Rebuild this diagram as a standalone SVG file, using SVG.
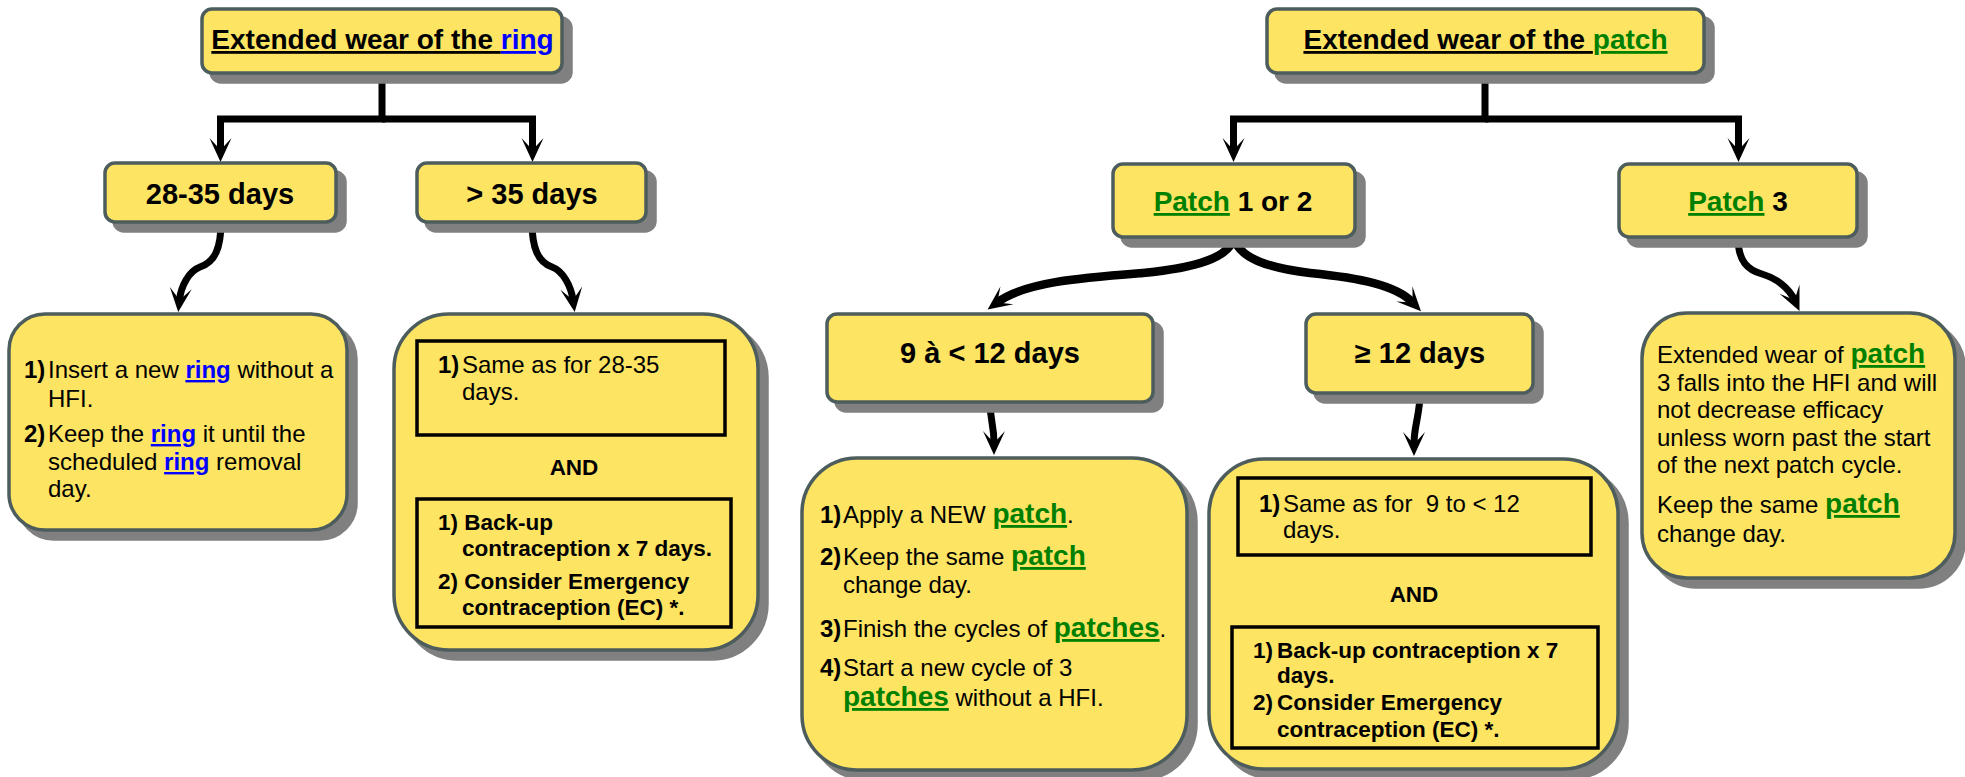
<svg xmlns="http://www.w3.org/2000/svg" width="1965" height="777" viewBox="0 0 1965 777">
<style>
text{font-family:"Liberation Sans",Arial,sans-serif;fill:#000}
.box{fill:#fde463;stroke:#4d5c5c;stroke-width:3.5}
.sh{fill:#808080;stroke:#808080;stroke-width:3.5}
.inner{fill:none;stroke:#000;stroke-width:3.5}
.lbl{font-size:29px;font-weight:bold;text-anchor:middle}
.ttl{font-size:28px;font-weight:bold;text-anchor:middle}
.t{font-size:24px}
.b{font-weight:bold}
.ring{font-weight:bold;fill:#0000ff;text-decoration:underline}
.pt{font-weight:bold;fill:#008000;text-decoration:underline;font-size:28px}
.u{text-decoration:underline}
.bt{font-size:22.5px;font-weight:bold}
.ctr{text-anchor:middle}
.con{fill:none;stroke:#000;stroke-width:7;stroke-linejoin:miter;marker-end:url(#ah)}
.thick{stroke-width:8.5}
</style>
<defs>
<marker id="ah" markerUnits="userSpaceOnUse" markerWidth="28" markerHeight="26" viewBox="-2 -13 28 26" refX="12" refY="0" orient="auto">
<path d="M0,-11 L24,0 L0,11 L12,0 Z" fill="#000"/>
</marker>
</defs>
<rect width="1965" height="777" fill="#fff"/>

<g id="connectors">
<path class="con" d="M382,73 V119 H220.5 V150"/>
<path class="con" d="M382,119 H532.5 V150"/>
<path class="con" d="M221,222 C221,248 215,262 200,267 C189,271 181,286 179.5,300"/>
<path class="con" d="M532,222 C532,248 538,262 552,267 C563,271 571,286 573,300"/>
<path class="con" d="M1485,73 V119 H1233.5 V150"/>
<path class="con" d="M1485,119 H1738.5 V150"/>
<path class="con thick" d="M1234,237 C1230,258 1195,268 1143,273 C1080,278 1025,282 997.3,302.4"/>
<path class="con thick" d="M1234,237 C1238,258 1268,268 1310,273 C1360,278 1396,285 1412.7,302.5"/>
<path class="con" d="M1738,237 C1738,262 1748,270 1762,274 C1776,278 1789,288 1794.5,300"/>
<path class="con" d="M990,402 C990,420 994,425 994,443"/>
<path class="con" d="M1420,393 C1420,415 1414,425 1414,444"/>
</g>

<g id="ring-title">
<rect class="sh" x="211" y="18" width="360" height="64" rx="10"/>
<rect class="box" x="202" y="9" width="360" height="64" rx="10"/>
<text class="ttl" x="382.5" y="49"><tspan class="u">Extended wear of the </tspan><tspan class="ring">ring</tspan></text>
</g>

<g id="ring-28-35">
<rect class="sh" x="114" y="172" width="231" height="59" rx="10"/>
<rect class="box" x="105" y="163" width="231" height="59" rx="10"/>
<text class="lbl" x="220" y="204">28-35 days</text>
</g>

<g id="ring-gt35">
<rect class="sh" x="426" y="172" width="229" height="59" rx="10"/>
<rect class="box" x="417" y="163" width="229" height="59" rx="10"/>
<text class="lbl" x="532" y="204">&gt; 35 days</text>
</g>

<g id="ring-28-35-detail">
<rect class="sh" x="18" y="323" width="338" height="216" rx="36"/>
<rect class="box" x="9" y="314" width="338" height="216" rx="36"/>
<text class="t b" x="24" y="378">1)</text>
<text class="t" x="48" y="378">Insert a new <tspan class="ring">ring</tspan> without a</text>
<text class="t" x="48" y="407">HFI.</text>
<text class="t b" x="24" y="442">2)</text>
<text class="t" x="48" y="442">Keep the <tspan class="ring">ring</tspan> it until the</text>
<text class="t" x="48" y="470">scheduled <tspan class="ring">ring</tspan> removal</text>
<text class="t" x="48" y="497">day.</text>
</g>

<g id="ring-gt35-detail">
<rect class="sh" x="403" y="323" width="364" height="336" rx="55"/>
<rect class="box" x="394" y="314" width="364" height="336" rx="55"/>
<rect class="inner" x="417" y="341" width="308" height="94"/>
<text class="t b" x="438" y="373">1)</text>
<text class="t" x="462" y="373">Same as for 28-35</text>
<text class="t" x="462" y="400">days.</text>
<text class="bt ctr" x="574" y="475">AND</text>
<rect class="inner" x="417" y="499" width="314" height="128"/>
<text class="bt" x="438" y="530">1) Back-up</text>
<text class="bt" x="462" y="556">contraception x 7 days.</text>
<text class="bt" x="438" y="589">2) Consider Emergency</text>
<text class="bt" x="462" y="615">contraception (EC) *.</text>
</g>

<g id="patch-title">
<rect class="sh" x="1276" y="18" width="437" height="64" rx="10"/>
<rect class="box" x="1267" y="9" width="437" height="64" rx="10"/>
<text class="ttl" x="1485.5" y="49"><tspan class="u">Extended wear of the </tspan><tspan class="pt">patch</tspan></text>
</g>

<g id="patch-1-2">
<rect class="sh" x="1122" y="173" width="242" height="73" rx="10"/>
<rect class="box" x="1113" y="164" width="242" height="73" rx="10"/>
<text class="ttl" x="1233" y="211"><tspan class="pt">Patch</tspan> 1 or 2</text>
</g>

<g id="patch-3">
<rect class="sh" x="1628" y="173" width="238" height="73" rx="10"/>
<rect class="box" x="1619" y="164" width="238" height="73" rx="10"/>
<text class="ttl" x="1738" y="211"><tspan class="pt">Patch</tspan> 3</text>
</g>

<g id="patch-9-12">
<rect class="sh" x="836" y="323" width="326" height="88" rx="10"/>
<rect class="box" x="827" y="314" width="326" height="88" rx="10"/>
<text class="lbl" x="990" y="363">9 à &lt; 12 days</text>
</g>

<g id="patch-ge12">
<rect class="sh" x="1315" y="323" width="227" height="79" rx="10"/>
<rect class="box" x="1306" y="314" width="227" height="79" rx="10"/>
<text class="lbl" x="1420" y="363">≥ 12 days</text>
</g>

<g id="patch-9-12-detail">
<rect class="sh" x="811" y="467" width="385" height="312" rx="55"/>
<rect class="box" x="802" y="458" width="385" height="312" rx="55"/>
<text class="t b" x="820" y="523">1)</text>
<text class="t" x="843" y="523">Apply a NEW <tspan class="pt">patch</tspan>.</text>
<text class="t b" x="820" y="565">2)</text>
<text class="t" x="843" y="565">Keep the same <tspan class="pt">patch</tspan></text>
<text class="t" x="843" y="593">change day.</text>
<text class="t b" x="820" y="637">3)</text>
<text class="t" x="843" y="637">Finish the cycles of <tspan class="pt">patches</tspan>.</text>
<text class="t b" x="820" y="676">4)</text>
<text class="t" x="843" y="676">Start a new cycle of 3</text>
<text class="t" x="843" y="706"><tspan class="pt">patches</tspan> without a HFI.</text>
</g>

<g id="patch-ge12-detail">
<rect class="sh" x="1218" y="468" width="409" height="310" rx="55"/>
<rect class="box" x="1209" y="459" width="409" height="310" rx="55"/>
<rect class="inner" x="1238" y="478" width="353" height="77"/>
<text class="t b" x="1259" y="512">1)</text>
<text class="t" x="1283" y="512" style="white-space:pre">Same as for  9 to &lt; 12</text>
<text class="t" x="1283" y="538">days.</text>
<text class="bt ctr" x="1414" y="602">AND</text>
<rect class="inner" x="1232" y="627" width="366" height="121"/>
<text class="bt" x="1253" y="658">1)</text>
<text class="bt" x="1277" y="658">Back-up contraception x 7</text>
<text class="bt" x="1277" y="683">days.</text>
<text class="bt" x="1253" y="710">2)</text>
<text class="bt" x="1277" y="710">Consider Emergency</text>
<text class="bt" x="1277" y="737">contraception (EC) *.</text>
</g>

<g id="patch-3-detail">
<rect class="sh" x="1651" y="322" width="313" height="265" rx="45"/>
<rect class="box" x="1642" y="313" width="313" height="265" rx="45"/>
<text class="t" x="1657" y="363">Extended wear of <tspan class="pt">patch</tspan></text>
<text class="t" x="1657" y="391">3 falls into the HFI and will</text>
<text class="t" x="1657" y="418">not decrease efficacy</text>
<text class="t" x="1657" y="446">unless worn past the start</text>
<text class="t" x="1657" y="473">of the next patch cycle.</text>
<text class="t" x="1657" y="513">Keep the same <tspan class="pt">patch</tspan></text>
<text class="t" x="1657" y="542">change day.</text>
</g>
</svg>
